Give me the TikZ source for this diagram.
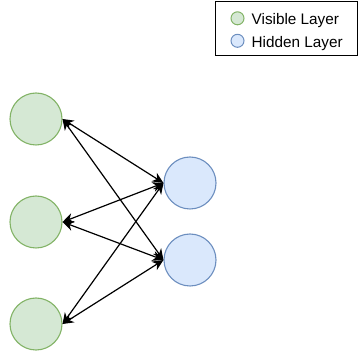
\documentclass[tikz,border=0pt]{standalone}
\usepackage{fontspec}
\setmainfont{Liberation Sans}
\usetikzlibrary{arrows.meta}
\definecolor{visfill}{HTML}{D5E8D4}
\definecolor{visline}{HTML}{82B366}
\definecolor{hidfill}{HTML}{DAE8FC}
\definecolor{hidline}{HTML}{6C8EBF}
\tikzset{
  visunit/.style={circle, draw=visline, fill=visfill, line width=1.1pt, minimum size=52pt, inner sep=0pt},
  hidunit/.style={circle, draw=hidline, fill=hidfill, line width=1.1pt, minimum size=52pt, inner sep=0pt},
  visdot/.style={circle, draw=visline, fill=visfill, line width=1pt, minimum size=13pt, inner sep=0pt},
  hiddot/.style={circle, draw=hidline, fill=hidfill, line width=1pt, minimum size=13pt, inner sep=0pt},
  tip/.tip={Stealth[length=11pt,width=10pt,inset=3.5pt]},
  link/.style={line width=1.2pt, tip-tip},
  legtext/.style={anchor=base west, inner sep=0pt, font=\fontsize{15.3}{18}\selectfont}
}
\begin{document}
\begin{tikzpicture}[x=1pt, y=-1pt]
  \useasboundingbox (0,0) rectangle (359,352);
  % legend
  \node[draw=black, line width=1pt, minimum width=142pt, minimum height=54pt, anchor=north west, inner sep=0pt] (legend) at (215,1) {};
  \node[visdot] (lv) at (237.5,18.3) {};
  \node[hiddot] (lh) at (237.5,40.8) {};
  \node[legtext] (lvt) at (251.5,24.3) {Visible Layer};
  \node[legtext] (lht) at (251.5,47.5) {Hidden Layer};
  % units
  \node[visunit] (v1) at (36,119) {};
  \node[visunit] (v2) at (36,222) {};
  \node[visunit] (v3) at (36,324) {};
  \node[hidunit] (h1) at (190,183) {};
  \node[hidunit] (h2) at (190,260) {};
  % connections
  \foreach \v in {v1,v2,v3}{
    \foreach \h in {h1,h2}{
      \draw[link] (\v.east) -- (\h.west);
    }
  }
\end{tikzpicture}
\end{document}
